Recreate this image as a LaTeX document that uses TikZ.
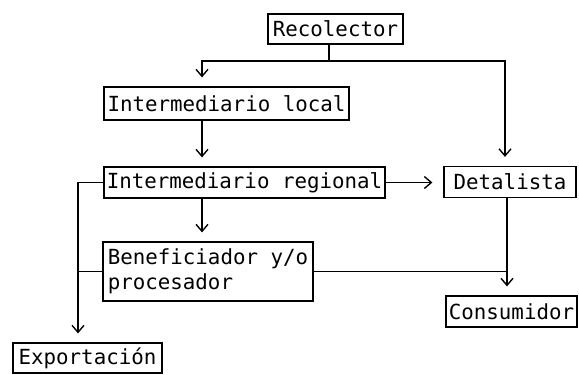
\documentclass[tikz,border=0pt]{standalone}
\usepackage{fontspec}
\setmonofont{DejaVu Sans Mono}
\usetikzlibrary{arrows.meta}
\tikzset{
  box/.style={draw, line width=0.6pt, inner sep=1pt, font=\ttfamily\fontsize{10.4}{12.5}\selectfont},
  flow/.style={-{Straight Barb[length=3.5pt,width=6pt]}, shorten >=4.5pt}
}
\begin{document}
\begin{tikzpicture}[x=0.5pt,y=-0.5pt]
      \useasboundingbox (0,0) rectangle (579,375);
      \draw
        (335.5,29) node[box,minimum width=67.5pt,minimum height=15pt] (rec){Recolector}
        (226.5,103.5) node[box,minimum width=122.5pt,minimum height=16.5pt] (loc){Intermediario local}
        (244.5,182.5) node[box,minimum width=140.5pt,minimum height=15.5pt] (reg){Intermediario regional}
        (510,182) node[box,minimum width=66pt,minimum height=15.5pt] (det){Detalista}
        (208,271.5) node[box,minimum width=105pt,minimum height=29.5pt,align=left] (ben){Beneficiador y/o\\procesador}
        (511.5,311.5) node[box,minimum width=65.5pt,minimum height=15.5pt] (con){Consumidor}
        (87.5,358) node[box,minimum width=74.5pt,minimum height=15pt] (exp){Exportación};
      \coordinate (split) at (329,61);
      \coordinate (c1) at (202,0);
      \coordinate (c2) at (505,0);
      \coordinate (c3) at (507,0);
      \coordinate (c4) at (78,0);
      \begin{scope}[line width=0.7pt]
        \draw (rec.south -| split) to (split);
        \draw[flow] (split) -| (loc.north -| c1);
        \draw[flow] (split) -| (det.north -| c2);
        \draw[flow] (loc.south -| c1) to (reg.north -| c1);
        \draw[flow] (reg.south -| c1) to (ben.north -| c1);
        \draw[flow,shorten >=5.5pt] (reg.east) to (reg.east -| det.west);
        \draw[flow] (reg.west) -| (exp.north -| c4);
        \draw (ben.west) to (ben.west -| c4);
        \draw[flow] (det.south -| c3) to (con.north -| c3);
        \draw (ben.east) to (ben.east -| c3);
      \end{scope}
    \end{tikzpicture}
\end{document}
